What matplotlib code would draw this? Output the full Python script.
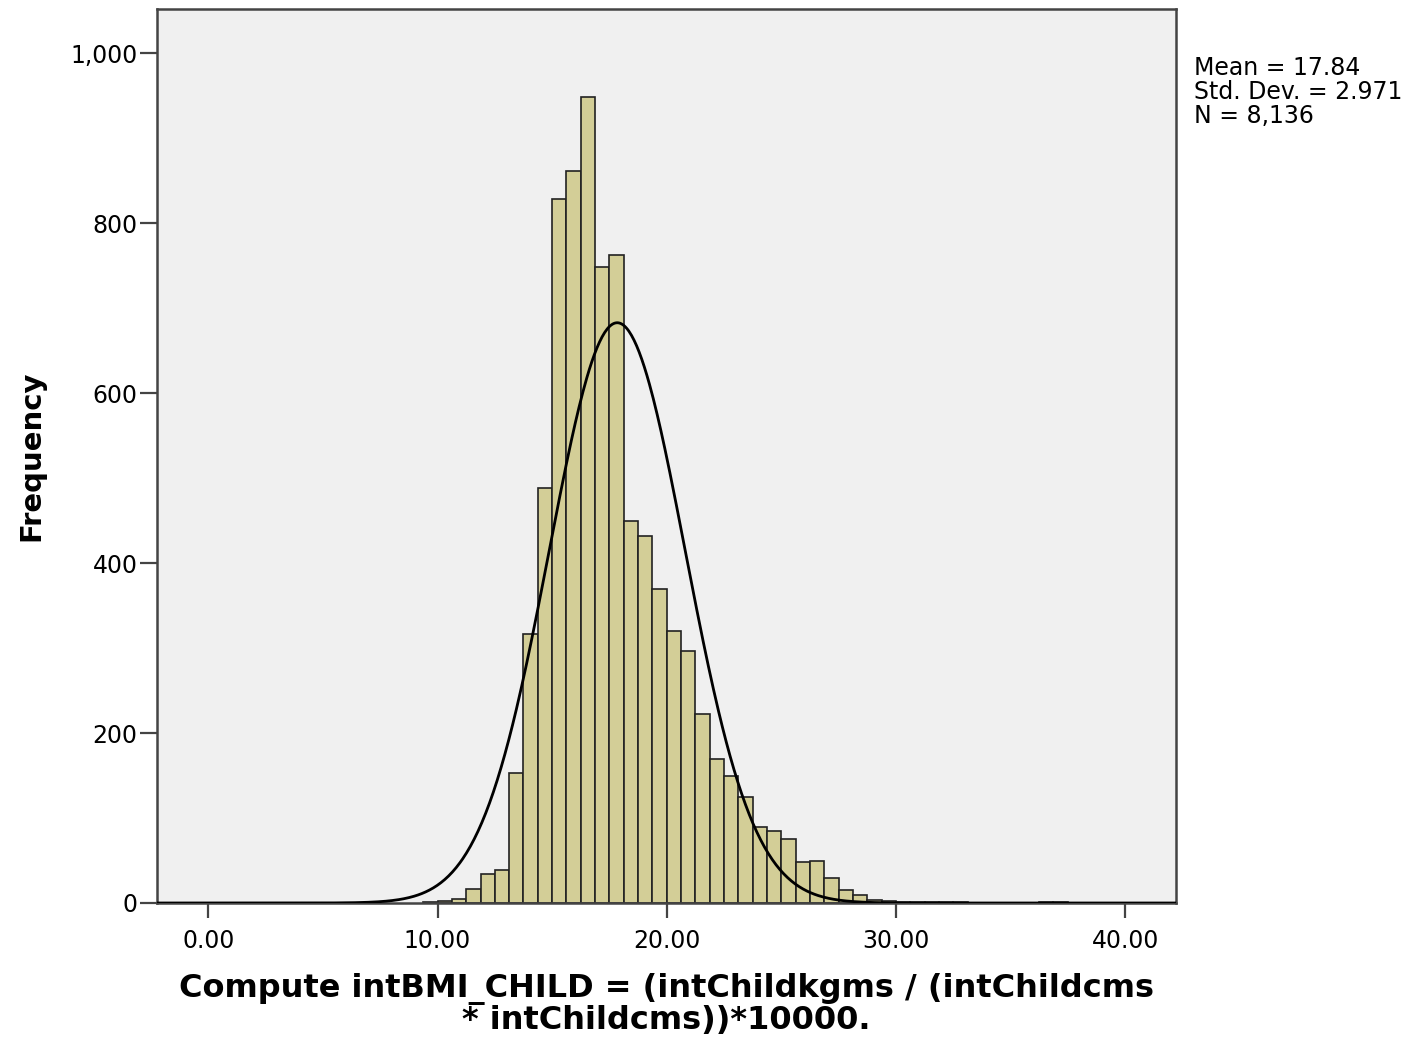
import numpy as np
import matplotlib
matplotlib.use("Agg")
import matplotlib.pyplot as plt
from matplotlib.ticker import FuncFormatter

plt.rcParams['font.family'] = ['DejaVu Sans']

# histogram data (bins of 0.625 starting at 9.375)
bin_start = 9.375
bin_width = 0.625
counts = [1, 2, 5, 16, 34, 39, 153, 316, 488, 828, 861, 948, 748, 762,
          450, 432, 370, 320, 296, 222, 170, 150, 125, 90, 85, 75, 48, 50,
          29, 15, 9, 4, 2, 1, 1, 1, 1, 1, 0, 0, 0, 0, 0, 1, 1]

mean = 17.84
std_dev = 2.971
n_total = 8136

x_ticks = [0, 10, 20, 30, 40]
y_ticks = [0, 200, 400, 600, 800, 1000]

bar_color = '#D3CE97'
bg_color = '#F0F0F0'
spine_color = '#444444'

fig = plt.figure(figsize=(14.08, 10.37), dpi=100)
ax = fig.add_axes([157 / 1408, 1 - 903 / 1037, (1176 - 157) / 1408, (903 - 9) / 1037])
ax.set_facecolor(bg_color)

lefts = bin_start + bin_width * np.arange(len(counts))
ax.bar(lefts, counts, width=bin_width, align='edge', color=bar_color,
       edgecolor='#222222', linewidth=1.2, zorder=2)

# fitted normal curve scaled to counts
xs = np.linspace(-2.3, 42.3, 800)
ys = n_total * bin_width / (std_dev * np.sqrt(2 * np.pi)) * np.exp(-0.5 * ((xs - mean) / std_dev) ** 2)
ax.plot(xs, ys, color='black', linewidth=2.0, zorder=3)

ax.set_xlim(-2.24, 42.22)
ax.set_ylim(0, 1052)
ax.set_xticks(x_ticks)
ax.set_yticks(y_ticks)
ax.xaxis.set_major_formatter(FuncFormatter(lambda v, p: f"{v:.2f}"))
ax.yaxis.set_major_formatter(FuncFormatter(lambda v, p: f"{int(v):,}"))

for s in ax.spines.values():
    s.set_color(spine_color)
    s.set_linewidth(1.8)
ax.tick_params(axis='x', direction='out', length=11, width=1.6, color=spine_color,
               labelsize=17, pad=8)
ax.tick_params(axis='y', direction='out', length=12, width=1.6, color=spine_color,
               labelsize=17, pad=2)

ax.set_ylabel("Frequency", fontsize=21, fontweight='bold', labelpad=18)
ax.set_xlabel("Compute intBMI_CHILD = (intChildkgms / (intChildcms\n* intChildcms))*10000.",
              fontsize=23, fontweight='bold', linespacing=1.0, labelpad=14)

fig.text(1194 / 1408, 1 - 56 / 1037, "Mean = 17.84\nStd. Dev. = 2.971\nN = 8,136",
         fontsize=17, va='top', ha='left', linespacing=1.0)

fig.savefig("out.png", dpi=100)
